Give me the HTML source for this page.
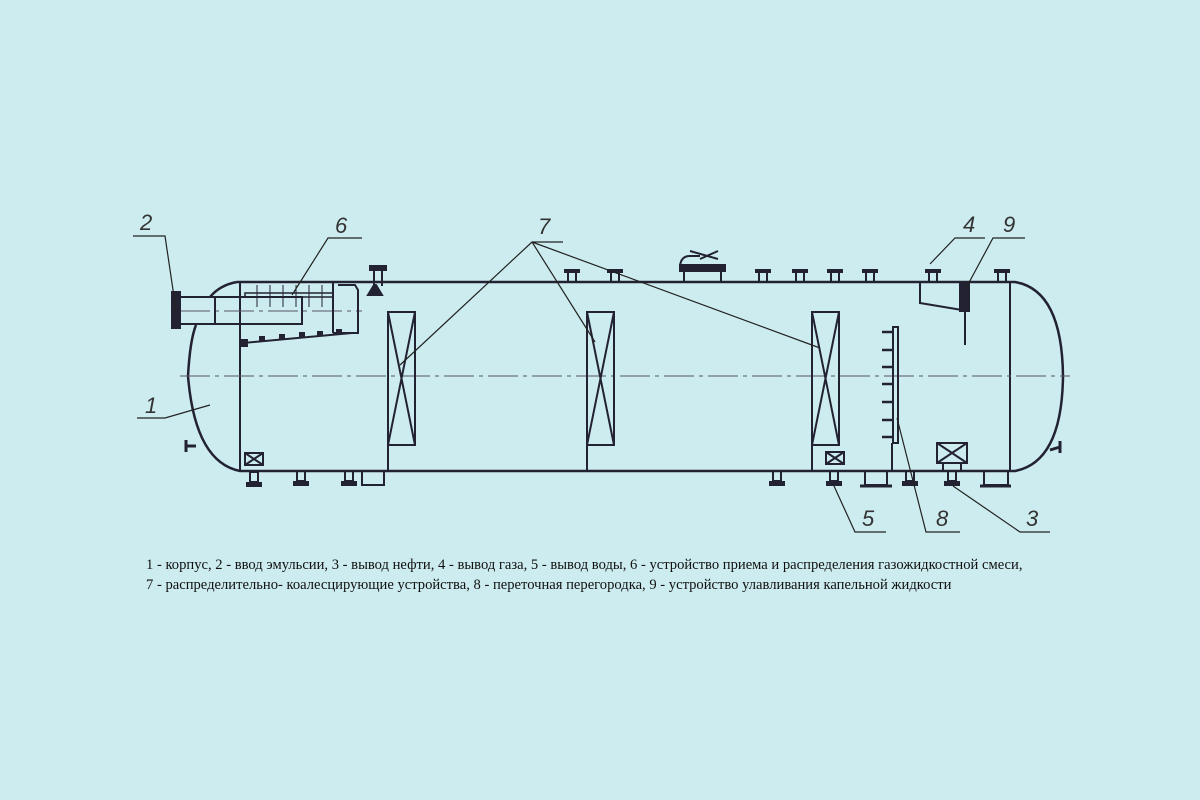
<!DOCTYPE html>
<html><head><meta charset="utf-8"><style>
html,body{margin:0;padding:0;background:#cdecef;}
svg{display:block}
.t{font-family:"Liberation Serif",serif;font-size:14.6px;fill:#111}
.n{font-family:"Liberation Sans",sans-serif;font-size:22px;font-style:italic;fill:#333}
</style></head><body>
<svg width="1200" height="800" viewBox="0 0 1200 800" xmlns="http://www.w3.org/2000/svg">
<defs>
<g id="nt"><rect x="-4" y="-10" width="8" height="10" fill="none" stroke="#223" stroke-width="2"/><rect x="-8" y="-13" width="16" height="4" fill="#223"/></g>
<g id="nb"><rect x="-4" y="0" width="8" height="10" fill="none" stroke="#223" stroke-width="2"/><rect x="-8" y="10" width="16" height="5" fill="#223"/></g>
</defs>
<g stroke="#223" fill="none" stroke-width="2.5">
<path d="M237 282 L1015 282 Q1062 290 1063 376 Q1062 462 1015 471 L240 471 Q195 462 188 376 Q190 340 196 325"/>
<path d="M210 297 Q220 285 237 282"/>
<line x1="240" y1="283" x2="240" y2="471" stroke-width="2"/>
<line x1="1010" y1="283" x2="1010" y2="471" stroke-width="2"/>
</g>
<g stroke="#556" stroke-width="1" stroke-dasharray="30,5,4,5">
<line x1="180" y1="376" x2="1070" y2="376"/>
<line x1="180" y1="311" x2="362" y2="311"/>
</g>
<g stroke="#223" fill="none" stroke-width="2">
<rect x="180" y="297" width="122" height="27"/>
<line x1="215" y1="297" x2="215" y2="324"/>
<rect x="172" y="292" width="8" height="36" fill="#223"/>
<rect x="245" y="293" width="88" height="4" stroke-width="1.5"/>
<g stroke-width="1"><line x1="257" y1="285" x2="257" y2="307"/><line x1="270" y1="285" x2="270" y2="307"/><line x1="283" y1="285" x2="283" y2="307"/><line x1="296" y1="285" x2="296" y2="307"/><line x1="309" y1="285" x2="309" y2="307"/><line x1="322" y1="285" x2="322" y2="307"/></g>
<path d="M333 283 L333 333 M338 285 L355 285 L358 290 L358 333 L333 333"/>
<line x1="243" y1="343" x2="352" y2="333"/>
<g fill="#223"><rect x="242" y="340" width="5" height="6"/><rect x="260" y="337" width="4" height="3"/><rect x="280" y="335" width="4" height="3"/><rect x="300" y="333" width="4" height="3"/><rect x="318" y="332" width="4" height="3"/><rect x="337" y="330" width="4" height="3"/></g>
<path d="M368 295 L382 295 L376 285 L374 285 Z" fill="#223"/>
<rect x="370" y="266" width="16" height="4" fill="#223"/><line x1="374" y1="270" x2="374" y2="286"/><line x1="382" y1="270" x2="382" y2="286"/>
<rect x="388" y="312" width="27" height="133"/><path d="M388 312 L415 445 M415 312 L388 445"/>
<rect x="587" y="312" width="27" height="133"/><path d="M587 312 L614 445 M614 312 L587 445"/>
<rect x="812" y="312" width="27" height="133"/><path d="M812 312 L839 445 M839 312 L812 445"/>
<line x1="388" y1="445" x2="388" y2="471"/><line x1="587" y1="445" x2="587" y2="471"/><line x1="812" y1="445" x2="812" y2="471"/>
<rect x="893" y="327" width="5" height="116"/>
<line x1="892" y1="443" x2="892" y2="471"/>
<g stroke-width="2.5"><line x1="882" y1="332" x2="893" y2="332"/><line x1="882" y1="350" x2="893" y2="350"/><line x1="882" y1="367" x2="893" y2="367"/><line x1="882" y1="384" x2="893" y2="384"/><line x1="882" y1="402" x2="893" y2="402"/><line x1="882" y1="420" x2="893" y2="420"/><line x1="882" y1="437" x2="893" y2="437"/></g>
<path d="M920 283 L920 303 L962 310"/>
<rect x="960" y="283" width="9" height="28" fill="#223"/>
<line x1="965" y1="311" x2="965" y2="345"/>
<rect x="680" y="265" width="45" height="6" fill="#223"/>
<line x1="684" y1="271" x2="684" y2="282"/><line x1="721" y1="271" x2="721" y2="282"/>
<path d="M680 266 Q681 256 690 256 L700 256" /><path d="M690 251 L718 259 M700 259 L718 251"/>
<rect x="245" y="453" width="18" height="12"/><path d="M245 453 L263 465 M263 453 L245 465"/>
<rect x="826" y="452" width="18" height="12"/><path d="M826 452 L844 464 M844 452 L826 464"/>
<rect x="937" y="443" width="30" height="20"/><path d="M937 443 L967 463 M967 443 L937 463"/>
<rect x="943" y="463" width="18" height="8"/>
<rect x="362" y="471" width="22" height="14"/>
<rect x="865" y="471" width="22" height="14"/><rect x="984" y="471" width="24" height="14"/>
<line x1="860" y1="486" x2="892" y2="486" stroke-width="3"/><line x1="980" y1="486" x2="1011" y2="486" stroke-width="3"/>
<path d="M196 446 L186 446 M186 440 L186 452" stroke-width="3"/>
<path d="M1050 450 L1060 447 M1060 441 L1060 453" stroke-width="3"/>
</g>
<use href="#nt" x="572" y="282"/><use href="#nt" x="615" y="282"/><use href="#nt" x="763" y="282"/>
<use href="#nt" x="800" y="282"/><use href="#nt" x="835" y="282"/><use href="#nt" x="870" y="282"/>
<use href="#nt" x="933" y="282"/><use href="#nt" x="1002" y="282"/>
<use href="#nb" x="254" y="472"/><use href="#nb" x="301" y="471"/><use href="#nb" x="349" y="471"/>
<use href="#nb" x="777" y="471"/><use href="#nb" x="834" y="471"/><use href="#nb" x="910" y="471"/>
<use href="#nb" x="952" y="471"/>
<g stroke="#222" stroke-width="1.2" fill="none">
<path d="M133 236 L165 236 L176 310"/>
<path d="M362 238 L328 238 L292 295"/>
<path d="M563 242 L532 242 L400 365 M532 242 L595 342 M532 242 L820 348"/>
<path d="M985 238 L955 238 L930 264"/>
<path d="M1025 238 L993 238 L965 290"/>
<path d="M137 418 L165 418 L210 405"/>
<path d="M886 532 L855 532 L834 486"/>
<path d="M960 532 L926 532 L897 418"/>
<path d="M1050 532 L1020 532 L953 486"/>
</g>
<text class="n" x="140" y="230">2</text>
<text class="n" x="335" y="233">6</text>
<text class="n" x="538" y="234">7</text>
<text class="n" x="963" y="232">4</text>
<text class="n" x="1003" y="232">9</text>
<text class="n" x="145" y="413">1</text>
<text class="n" x="862" y="526">5</text>
<text class="n" x="936" y="526">8</text>
<text class="n" x="1026" y="526">3</text>
<text class="t" x="146" y="569">1 - корпус, 2 - ввод эмульсии, 3 - вывод нефти, 4 - вывод газа, 5 - вывод воды, 6 - устройство приема и распределения газожидкостной смеси,</text>
<text class="t" x="146" y="589">7 - распределительно- коалесцирующие устройства, 8 - переточная перегородка, 9 - устройство улавливания капельной жидкости</text>
</svg>
</body></html>
